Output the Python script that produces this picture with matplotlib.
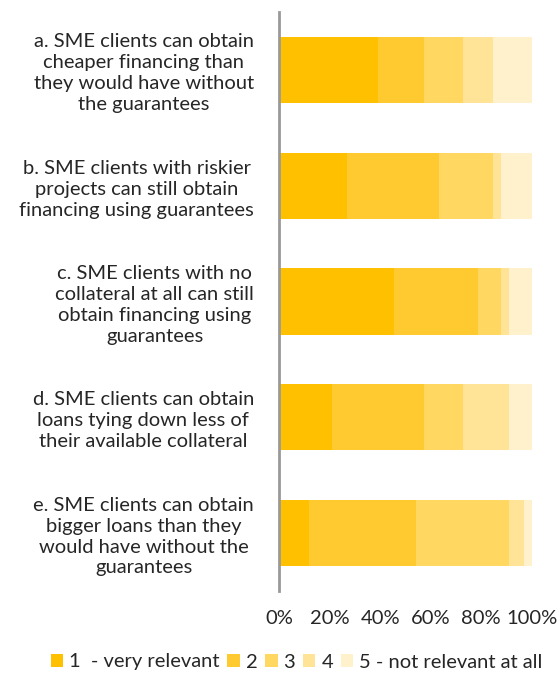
import matplotlib
matplotlib.use("Agg")
import matplotlib.pyplot as plt
import numpy as np

categories = [
    "a. SME clients can obtain\ncheaper financing than\nthey would have without\nthe guarantees",
    "b. SME clients with riskier\nprojects can still obtain\nfinancing using guarantees",
    "c. SME clients with no\ncollateral at all can still\nobtain financing using\nguarantees",
    "d. SME clients can obtain\nloans tying down less of\ntheir available collateral",
    "e. SME clients can obtain\nbigger loans than they\nwould have without the\nguarantees",
]
series_names = ["1  - very relevant", "2", "3", "4", "5 - not relevant at all"]
s1 = [39.2, 27.1, 45.6, 21.1, 12.0]
s2 = [18.2, 36.3, 33.2, 36.3, 42.3]
s3 = [15.3, 21.2, 9.1, 15.3, 36.7]
s4 = [12.0, 3.3, 3.1, 18.3, 6.0]
s5 = [15.3, 12.1, 9.0, 9.0, 3.0]
xticks = [0, 20, 40, 60, 80, 100]
xtick_labels = ["0%", "20%", "40%", "60%", "80%", "100%"]

colors = ["#FFC000", "#FFCA30", "#FFD761", "#FFE396", "#FFF1CC"]

plt.rcParams['font.family'] = ['Lato', 'DejaVu Sans']
fig = plt.figure(figsize=(5.6, 6.73), dpi=100)
ax = fig.add_axes([279/560, 1 - 591/673, (531.7-279)/560, (591-12)/673])

y = np.arange(len(categories))
left = np.zeros(len(categories))
for vals, col, name in zip([s1, s2, s3, s4, s5], colors, series_names):
    ax.barh(y, vals, left=left, height=0.57, color=col, label=name, edgecolor='none')
    left += np.array(vals)

ax.set_ylim(4.5, -0.5)
ax.set_xlim(0, 100)
ax.set_yticks(y)
ax.set_yticklabels(categories, fontsize=14.5, color='#262626')
for lbl in ax.get_yticklabels():
    lbl.set_multialignment('center')
    lbl.set_linespacing(1.28)
ax.set_xticks(xticks)
ax.set_xticklabels(xtick_labels, fontsize=14.5, color='#262626')
ax.tick_params(axis='y', length=0, pad=18)
ax.tick_params(axis='x', length=0, pad=14)
for s in ['top', 'right', 'bottom']:
    ax.spines[s].set_visible(False)
ax.spines['left'].set_color('#999999')
ax.spines['left'].set_linewidth(2)

handles, labels = ax.get_legend_handles_labels()
fig.legend(handles, labels, loc='center', bbox_to_anchor=(0.53, 1 - 662/673), ncol=5,
           frameon=False, fontsize=14.5, handlelength=0.6, handleheight=0.6,
           handletextpad=0.3, columnspacing=0.4, labelcolor='#262626',
           borderpad=0.1, borderaxespad=0.1)

fig.savefig("out.png", dpi=100)
